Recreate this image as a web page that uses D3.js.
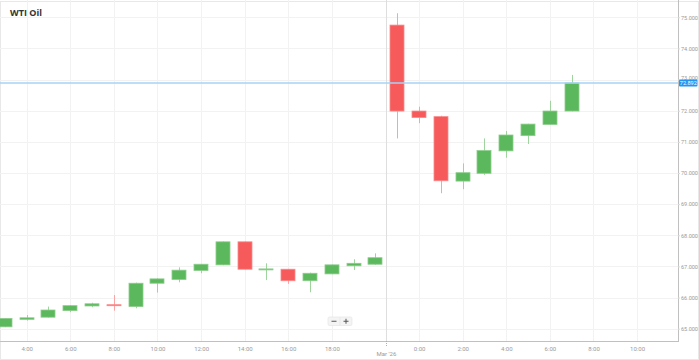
<!DOCTYPE html>
<html><head><meta charset="utf-8">
<script src="https://cdn.jsdelivr.net/npm/d3@7"></script>
<style>
html,body{margin:0;padding:0;background:#fff;}
svg{display:block;font-family:"Open Sans","Liberation Sans",Arial,sans-serif;}
</style></head>
<body><svg id="c" width="699" height="360"></svg>
<script>
const times = ["3:00","4:00","5:00","6:00","7:00","8:00","9:00","10:00","11:00","12:00","13:00","14:00","15:00","16:00","17:00","18:00","19:00","20:00","23:00","0:00","1:00","2:00","3:00","4:00","5:00","6:00","7:00"];
const open  = [65.06,65.30,65.37,65.58,65.73,65.77,65.71,66.46,66.58,66.87,67.05,67.79,66.90,66.91,66.54,66.76,67.02,67.07,74.75,71.99,71.81,69.74,69.99,70.71,71.20,71.56,71.99];
const close = [65.33,65.35,65.60,65.74,65.80,65.75,66.46,66.60,66.88,67.07,67.79,66.91,66.92,66.54,66.78,67.05,67.10,67.28,71.99,71.78,69.75,70.01,70.72,71.22,71.57,71.99,72.892];
const high  = [65.34,65.44,65.71,65.76,65.835,66.08,66.48,66.62,66.97,67.08,67.80,67.80,67.10,66.92,66.80,67.06,67.23,67.42,75.13,72.13,71.84,70.31,71.11,71.35,71.58,72.32,73.15];
const low   = [65.05,65.26,65.36,65.53,65.69,65.58,65.655,66.16,66.49,66.78,67.04,66.90,66.56,66.44,66.17,66.75,66.885,67.05,71.11,71.60,69.35,69.48,69.94,70.49,70.93,71.55,71.98];
const xTickPos = [1,3,5,7,9,11,13,15,19,21,23,25,27,29];
const xTickLabels = ["4:00","6:00","8:00","10:00","12:00","14:00","16:00","18:00","0:00","2:00","4:00","6:00","8:00","10:00"];
const breakPos = 17.5;
const breakLabel = "Mar '26";
const yTicks = [65,66,67,68,69,70,71,72,73,74,75];
const title = "WTI Oil";
const lastPrice = 72.892;

const svg = d3.select("#c");
const W = 699, H = 360;
const plotR = 678, plotB = 341;
const x = d3.scaleLinear().domain([0, 30.9]).range([4.9, 678.5]);
const y = d3.scaleLinear().domain([65, 75]).range([328.7, 17.3]);
const bw = 14;

// outer border
svg.append("rect").attr("x",0.5).attr("y",1.5).attr("width",W-1).attr("height",H-2)
  .attr("fill","none").attr("stroke","#e8e8e8");

// clip
svg.append("defs").append("clipPath").attr("id","pc").append("rect")
  .attr("x",0).attr("y",0).attr("width",plotR).attr("height",plotB);

// horizontal grid
svg.append("g").selectAll("line").data(yTicks).join("line")
  .attr("x1",0).attr("x2",plotR).attr("y1",d=>Math.round(y(d))+0.5).attr("y2",d=>Math.round(y(d))+0.5)
  .attr("stroke","#f2f2f2");
// vertical grid
svg.append("g").selectAll("line").data(xTickPos).join("line")
  .attr("x1",d=>Math.round(x(d))+0.5).attr("x2",d=>Math.round(x(d))+0.5).attr("y1",0).attr("y2",plotB)
  .attr("stroke","#f2f2f2");
// break line
svg.append("line").attr("x1",Math.round(x(breakPos))+0.5).attr("x2",Math.round(x(breakPos))+0.5)
  .attr("y1",0).attr("y2",plotB).attr("stroke","#dedede");

// candles
const data = times.map((t,i)=>({i,t,o:open[i],c:close[i],h:high[i],l:low[i]}));
const g = svg.append("g").attr("clip-path","url(#pc)");
const up = "#5cb85c", upW = "#9fd49f", dn = "#f65a5a", dnW = "#f9a3a3";
g.selectAll("line.w").data(data).join("line").attr("class","w")
  .attr("x1",d=>Math.round(x(d.i))+0.5).attr("x2",d=>Math.round(x(d.i))+0.5)
  .attr("y1",d=>y(d.h)).attr("y2",d=>y(d.l))
  .attr("stroke",d=>d.c>=d.o?upW:dnW).attr("stroke-width",1);
g.selectAll("rect.b").data(data).join("rect").attr("class","b")
  .attr("x",d=>Math.round(x(d.i)-bw/2))
  .attr("y",d=>y(Math.max(d.o,d.c)))
  .attr("width",bw)
  .attr("height",d=>Math.max(1, y(Math.min(d.o,d.c))-y(Math.max(d.o,d.c))))
  .attr("fill",d=>d.c>=d.o?up:dn)
  .attr("stroke",d=>d.c>=d.o?"#8ccc8c":"#f88a8a").attr("stroke-width",0.8);

// axes lines
svg.append("line").attr("x1",0).attr("x2",plotR).attr("y1",plotB+0.5).attr("y2",plotB+0.5).attr("stroke","#c0c0c0");
svg.append("line").attr("x1",plotR+0.5).attr("x2",plotR+0.5).attr("y1",0).attr("y2",plotB+1).attr("stroke","#c0c0c0");

// x axis
const xa = svg.append("g").attr("transform",`translate(0,${plotB})`)
  .call(d3.axisBottom(x).tickValues(xTickPos).tickSize(0).tickPadding(6)
    .tickFormat((d,k)=>xTickLabels[k]));
xa.select(".domain").remove();
xa.selectAll("text").attr("fill","#9a9a9a").attr("font-size","6px").attr("font-family","Roboto, sans-serif");
// break label
svg.append("line").attr("x1",Math.round(x(breakPos))+0.5).attr("x2",Math.round(x(breakPos))+0.5)
  .attr("y1",plotB).attr("y2",plotB+6).attr("stroke","#b0b0b0").attr("stroke-dasharray","1,1");
svg.append("text").attr("x",x(breakPos)).attr("y",plotB+15).attr("text-anchor","middle")
  .attr("fill","#9a9a9a").attr("font-size","6px").attr("font-family","Roboto, sans-serif").text(breakLabel);

// y axis
const ya = svg.append("g").attr("transform",`translate(${plotR},0)`)
  .call(d3.axisRight(y).tickValues(yTicks).tickSize(2).tickPadding(1).tickFormat(d3.format(".3f")));
ya.select(".domain").remove();
ya.selectAll("line").attr("stroke","#dcdcdc");
ya.selectAll("text").attr("fill","#9a9a9a").attr("font-size","5.5px").attr("font-family","Roboto, sans-serif");
// tick label partly hidden behind the price tag: lift it just above the tag
ya.selectAll(".tick").filter(d=>Math.abs(d-lastPrice)<0.3).select("text")
  .attr("dy",null).attr("y",0).attr("transform",`translate(0,${y(lastPrice)-3.8-y(73)})`)
  .attr("dominant-baseline","auto");

// last price line & label
svg.append("line").attr("x1",0).attr("x2",plotR).attr("y1",y(lastPrice)).attr("y2",y(lastPrice))
  .attr("stroke","#a6d3f7").attr("stroke-width",1.6);
svg.append("rect").attr("x",plotR+1).attr("y",y(lastPrice)-3.5).attr("width",18.5).attr("height",7).attr("rx",1)
  .attr("fill","#2196f3");
svg.append("text").attr("x",plotR+10.3).attr("y",y(lastPrice)+2).attr("text-anchor","middle")
  .attr("fill","#fff").attr("font-size","5.5px").attr("font-family","Roboto, sans-serif").text(d3.format(".3f")(lastPrice));

// title
svg.append("text").attr("x",10).attr("y",16).attr("font-size","9px").attr("font-weight","bold")
  .attr("fill","#333").attr("font-family","'Open Sans', Arial, sans-serif").text(title);

// zoom control
const zc = svg.append("g").attr("transform","translate(328,317)");
zc.append("rect").attr("x",0).attr("y",0).attr("width",24).attr("height",8.5).attr("rx",1.5)
  .attr("fill","#f4f4f4").attr("stroke","#e2e2e2").attr("stroke-width",0.6);
zc.append("line").attr("x1",12).attr("x2",12).attr("y1",0.5).attr("y2",8).attr("stroke","#e2e2e2").attr("stroke-width",0.6);
zc.append("line").attr("x1",3.5).attr("x2",8.5).attr("y1",4.25).attr("y2",4.25).attr("stroke","#555").attr("stroke-width",1);
zc.append("line").attr("x1",15.5).attr("x2",20.5).attr("y1",4.25).attr("y2",4.25).attr("stroke","#555").attr("stroke-width",1);
zc.append("line").attr("x1",18).attr("x2",18).attr("y1",1.75).attr("y2",6.75).attr("stroke","#555").attr("stroke-width",1);
</script></body></html>
